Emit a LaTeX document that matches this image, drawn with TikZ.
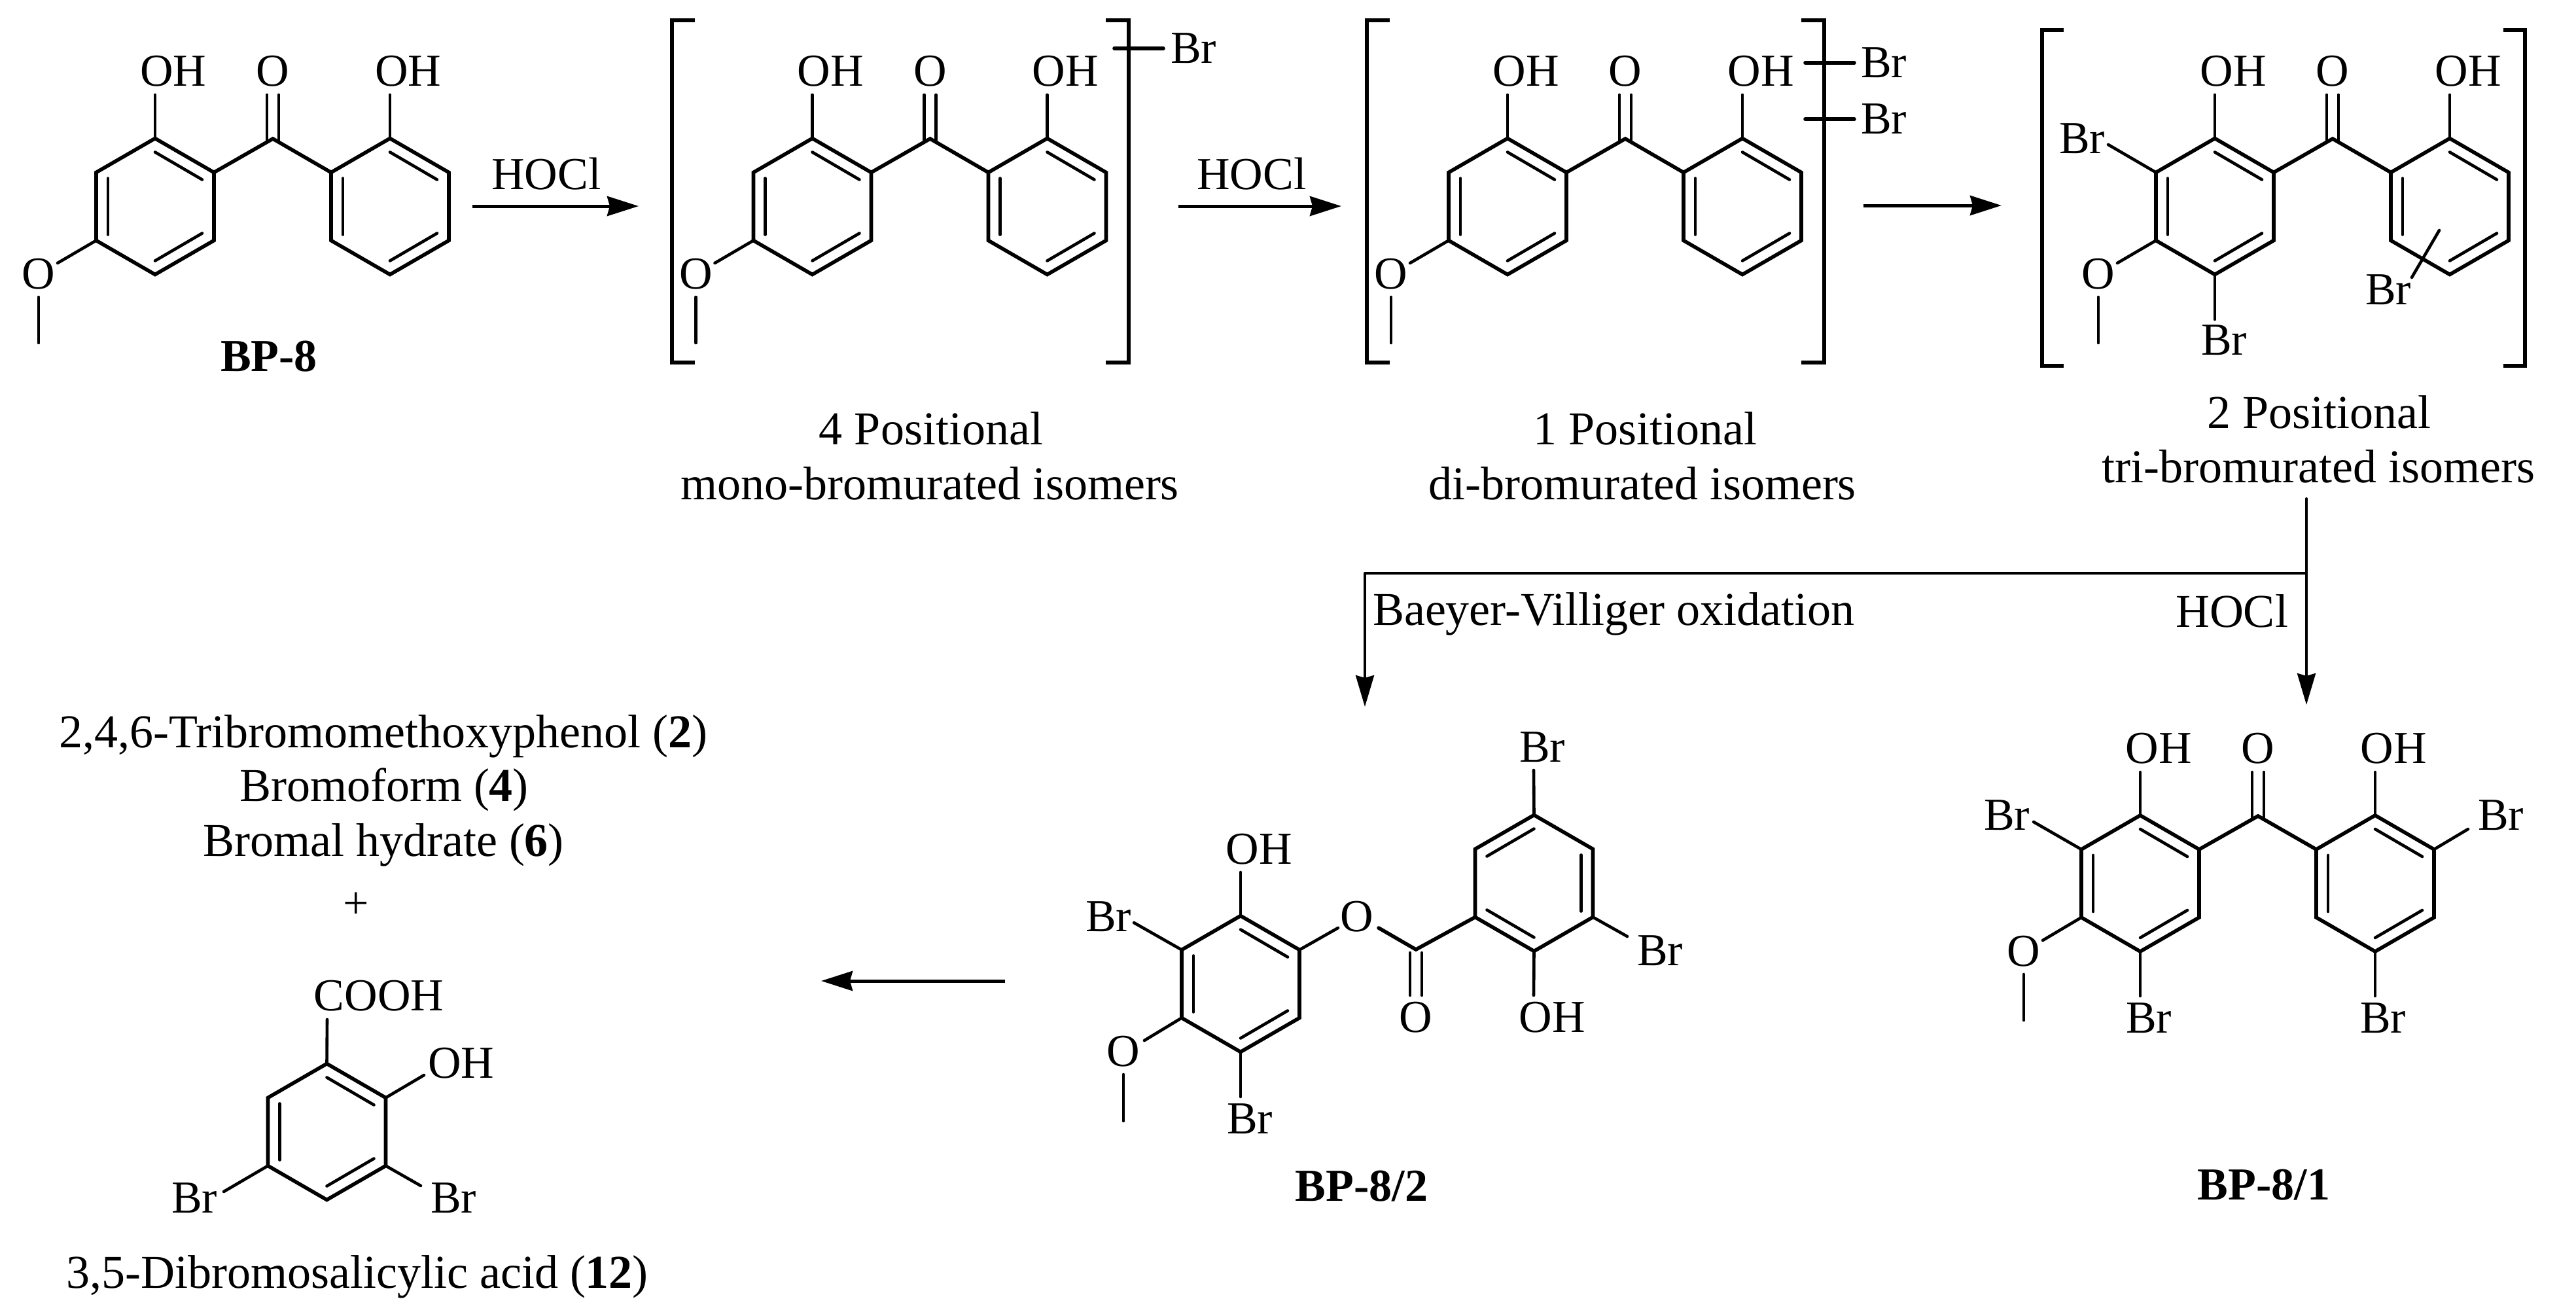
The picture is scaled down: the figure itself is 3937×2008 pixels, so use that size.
\documentclass[tikz,border=0pt]{standalone}
\usepackage{fontspec}
\setmainfont{Liberation Serif}
\usetikzlibrary{arrows.meta}
\tikzset{
  bond/.style={line width=2.8pt,line cap=round,line join=miter},
  thin bond/.style={line width=2.3pt,line cap=round},
  bracket/.style={line width=3pt,line cap=butt,line join=miter},
  atom/.style={inner sep=0pt,outer sep=0pt,font=\fontsize{35}{40}\selectfont},
  label text/.style={inner sep=0pt,outer sep=0pt,anchor=base,font=\fontsize{36}{40}\selectfont},
  title text/.style={inner sep=0pt,outer sep=0pt,anchor=base,font=\fontsize{35}{40}\selectfont},
  reaction/.style={line width=2.5pt,-{Stealth[length=24pt,width=15pt,inset=2pt]}},
  branch arrow/.style={line width=2pt,-{Stealth[length=24pt,width=14pt,inset=2pt]}},
  plain line/.style={line width=2pt,line cap=round}
}
% ring with double bonds: ul-ll, t-ur, lr-b
\newcommand{\ringcoords}[3]{%
  \coordinate (#1-t) at (#2,#3-104);
  \coordinate (#1-ur) at (#2+90,#3-52);
  \coordinate (#1-lr) at (#2+90,#3+52);
  \coordinate (#1-b) at (#2,#3+104);
  \coordinate (#1-ll) at (#2-90,#3+52);
  \coordinate (#1-ul) at (#2-90,#3-52);
  \draw[bond] (#1-t) -- (#1-ur) -- (#1-lr) -- (#1-b) -- (#1-ll) -- (#1-ul) -- cycle;
}
\newcommand{\ringA}[3]{%
  \ringcoords{#1}{#2}{#3}
  \draw[thin bond] (#2-72,#3-43) -- (#2-72,#3+43);
  \draw[thin bond] (#2,#3-83) -- (#2+72,#3-41);
  \draw[thin bond] (#2+72,#3+41) -- (#2,#3+83);
}
\newcommand{\ringB}[3]{%
  \ringcoords{#1}{#2}{#3}
  \draw[thin bond] (#2+72,#3-43) -- (#2+72,#3+43);
  \draw[thin bond] (#2,#3-83) -- (#2-72,#3-41);
  \draw[thin bond] (#2-72,#3+41) -- (#2,#3+83);
}
% bond from a named point to a named free end
\newcommand{\bondend}[4]{%
  \coordinate (#2) at (#3,#4);
  \draw[thin bond] (#1) -- (#2);
}
% benzophenone skeleton
\newcommand{\bpsk}[3]{%
  \begin{scope}[shift={(#2,#3)}]
    \ringA{#1a}{237}{315.5}
    \ringA{#1b}{596}{315.5}
    \coordinate (#1c) at (417,212);
    \draw[bond] (#1a-ur) -- (#1c) -- (#1b-ul);
    \draw[thin bond] (408,145) -- (408,217);
    \draw[thin bond] (426,145) -- (426,217);
    \node[atom] (#1co) at (417,109) {O};
    \bondend{#1a-t}{#1e1}{237}{145}
    \bondend{#1b-t}{#1e2}{596}{145}
    \node[atom] (#1oh1) at (265,109) {OH};
    \node[atom] (#1oh2) at (624,109) {OH};
    \bondend{#1a-ll}{#1e3}{88}{402}
    \node[atom] (#1ome) at (59,419) {O};
    \coordinate (#1m1) at (59,454);
    \coordinate (#1m2) at (59,524);
    \draw[thin bond] (#1m1) -- (#1m2);
  \end{scope}
}
\newcommand{\brackets}[6]{%
  % name, xleft, xright, ytop, ybottom, tick
  \draw[bracket] (#2+#6,#4) -- (#2,#4) -- (#2,#5) -- (#2+#6,#5);
  \draw[bracket] (#3-#6,#4) -- (#3,#4) -- (#3,#5) -- (#3-#6,#5);
}
\begin{document}
\begin{tikzpicture}[x=0.5pt,y=-0.5pt]
\useasboundingbox (0,0) rectangle (3937,2008);

% BP-8
\bpsk{p}{0}{0}
\node[title text] (bp8) at (411,567) {\textbf{BP-8}};

% arrow 1
\node[atom] (hocla) at (835,266) {HOCl};
\coordinate (a1s) at (722,315);
\coordinate (a1e) at (976,315);
\draw[reaction] (a1s) -- (a1e);

% mono
\bpsk{q}{1004.5}{0}
\brackets{bq}{1027}{1725}{31}{554}{35}
\coordinate (qbr1) at (1703,74);
\coordinate (qbr2) at (1778,74);
\draw[bond] (qbr1) -- (qbr2);
\node[atom] (qbr) at (1824,74) {Br};
\node[label text] (q1) at (1423,679) {4 Positional};
\node[label text] (q2) at (1421,763) {mono-bromurated isomers};

% arrow 2
\node[atom] (hoclb) at (1913,266) {HOCl};
\coordinate (a2s) at (1801,315);
\coordinate (a2e) at (2050,315);
\draw[reaction] (a2s) -- (a2e);

% di
\bpsk{r}{2067}{0}
\brackets{br}{2089}{2788}{31}{554}{35}
\coordinate (rbr1) at (2759,96);
\coordinate (rbr2) at (2834,96);
\coordinate (rbr3) at (2759,182);
\coordinate (rbr4) at (2834,182);
\draw[bond] (rbr1) -- (rbr2);
\draw[bond] (rbr3) -- (rbr4);
\node[atom] (rbra) at (2879,96) {Br};
\node[atom] (rbrb) at (2879,182) {Br};
\node[label text] (r1) at (2514,679) {1 Positional};
\node[label text] (r2) at (2510,763) {di-bromurated isomers};

% arrow 3
\coordinate (a3s) at (2848,314);
\coordinate (a3e) at (3059,314);
\draw[reaction] (a3s) -- (a3e);

% tri
\bpsk{s}{3148}{0}
\brackets{bs}{3121}{3859}{46}{559}{33}
\bondend{sa-ul}{sbr1e}{3222}{221}
\node[atom] (sbr1) at (3182,212) {Br};
\bondend{sa-b}{sbr2e}{3385}{488}
\node[atom] (sbr2) at (3399,520) {Br};
\coordinate (sbr3s) at (3728,352);
\coordinate (sbr3e) at (3686,424);
\draw[thin bond] (sbr3s) -- (sbr3e);
\node[atom] (sbr3) at (3650,443) {Br};
\node[label text] (s1) at (3544,654) {2 Positional};
\node[label text] (s2) at (3543,737) {tri-bromurated isomers};

% branch
\coordinate (bt) at (3525,762);
\coordinate (bj) at (3525,876);
\coordinate (bl) at (2086,876);
\coordinate (ble) at (2086,1080);
\coordinate (bre) at (3525,1077);
\draw[plain line] (bt) -- (bj);
\draw[plain line] (bj) -- (bl);
\draw[branch arrow] (bl) -- (ble);
\draw[branch arrow] (bj) -- (bre);
\node[label text] (bv) at (2466,955) {Baeyer-Villiger oxidation};
\node[label text] (hoclc) at (3411,958) {HOCl};

% BP-8/2
\ringA{ua}{1896}{1503.5}
\ringB{ub}{2344.5}{1349.5}
\bondend{ua-t}{uoh1e}{1896}{1333}
\node[atom] (uoh1) at (1924,1298) {OH};
\bondend{ua-ul}{ubr1e}{1733}{1410}
\node[atom] (ubr1) at (1694,1401) {Br};
\bondend{ua-ll}{uome}{1749}{1590}
\node[atom] (uo) at (1717,1607) {O};
\coordinate (um1) at (1717,1642);
\coordinate (um2) at (1717,1713);
\draw[thin bond] (um1) -- (um2);
\bondend{ua-b}{ubr2e}{1896}{1676}
\node[atom] (ubr2) at (1910,1710) {Br};
\bondend{ua-ur}{ueo1}{2045}{1418}
\node[atom] (ueo) at (2074,1401) {O};
\coordinate (ueo2) at (2107,1418);
\coordinate (uc) at (2164,1451);
\draw[bond] (ub-ll) -- (uc) -- (ueo2);
\draw[thin bond] (2155,1456) -- (2155,1521);
\draw[thin bond] (2173,1456) -- (2173,1521);
\node[atom] (uco) at (2164,1555) {O};
\bondend{ub-t}{ubr3e}{2344}{1177}
\node[atom] (ubr3) at (2357,1142) {Br};
\bondend{ub-lr}{ubr4e}{2487}{1431}
\node[atom] (ubr4) at (2537,1453) {Br};
\bondend{ub-b}{uoh2e}{2344}{1521}
\node[atom] (uoh2) at (2372,1555) {OH};
\node[title text] (bp82) at (2081,1835) {\textbf{BP-8/2}};

% BP-8/1
\ringA{va}{3271}{1350}
\ringA{vb}{3630}{1350}
\coordinate (vc) at (3451,1247);
\draw[bond] (va-ur) -- (vc) -- (vb-ul);
\draw[thin bond] (3442,1180) -- (3442,1252);
\draw[thin bond] (3460,1180) -- (3460,1252);
\node[atom] (vco) at (3451,1144) {O};
\bondend{va-t}{ve1}{3271}{1180}
\bondend{vb-t}{ve2}{3630}{1180}
\node[atom] (voh1) at (3299,1144) {OH};
\node[atom] (voh2) at (3658,1144) {OH};
\bondend{va-ll}{ve3}{3122}{1437}
\node[atom] (vome) at (3093,1454) {O};
\coordinate (vm1) at (3093,1489);
\coordinate (vm2) at (3093,1559);
\draw[thin bond] (vm1) -- (vm2);
\bondend{va-ul}{ve4}{3108}{1256}
\node[atom] (vbr1) at (3067,1246) {Br};
\bondend{vb-ur}{ve5}{3772}{1267}
\node[atom] (vbr2) at (3822,1246) {Br};
\bondend{va-b}{ve6}{3271}{1522}
\node[atom] (vbr3) at (3284,1556) {Br};
\bondend{vb-b}{ve7}{3630}{1522}
\node[atom] (vbr4) at (3642,1556) {Br};
\node[title text] (bp81) at (3460,1833) {\textbf{BP-8/1}};

% arrow to products
\coordinate (a4s) at (1536,1499);
\coordinate (a4e) at (1255,1499);
\draw[reaction] (a4s) -- (a4e);

% products
\node[label text] (w1) at (586,1142) {2,4,6-Tribromomethoxyphenol (\textbf{2})};
\node[label text] (w2) at (587,1224) {Bromoform (\textbf{4})};
\node[label text] (w3) at (586,1308) {Bromal hydrate (\textbf{6})};
\node[atom] (w4) at (544,1384) {+};
\ringA{wr}{499.5}{1729.5}
\bondend{wr-t}{we1}{500}{1558}
\node[atom] (wcooh) at (579,1522) {COOH};
\bondend{wr-ur}{we2}{648}{1643}
\node[atom] (woh) at (705,1625) {OH};
\bondend{wr-ll}{we3}{342}{1821}
\node[atom] (wbr1) at (297,1831) {Br};
\bondend{wr-lr}{we4}{643}{1812}
\node[atom] (wbr2) at (693,1831) {Br};
\node[label text] (w5) at (546,1968) {3,5-Dibromosalicylic acid (\textbf{12})};
\end{tikzpicture}
\end{document}
